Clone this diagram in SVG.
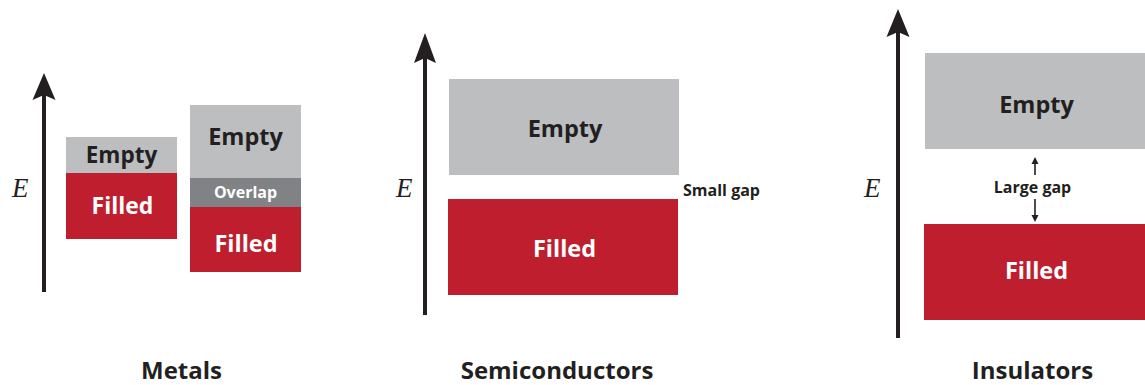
<svg xmlns="http://www.w3.org/2000/svg" width="1145" height="385" viewBox="0 0 1145 385">
<style>
.empty{fill:#bcbec0}
.filled{fill:#be1e2d}
.overlap{fill:#808285}
.t{font-family:"Open Sans","Noto Sans","Liberation Sans",sans-serif;font-weight:bold;text-anchor:middle}
.dark{fill:#231f20}
.white{fill:#ffffff}
.axis{stroke:#231f20;stroke-width:4;fill:none}
.head{fill:#231f20}
.e{font-family:"Liberation Serif","DejaVu Serif",serif;font-style:italic;font-size:27px;fill:#231f20}
.thin{stroke:#231f20;stroke-width:1.6;fill:none}
</style>
<g id="connectors">
<line class="axis" x1="44" y1="292" x2="44" y2="95"/>
<path class="head" d="M44,73 L55.5,100 L44,95 L32.5,100 Z"/>
<line class="axis" x1="425" y1="315" x2="425" y2="57"/>
<path class="head" d="M425,33 L436,63 L425,58 L414,63 Z"/>
<line class="axis" x1="898" y1="338" x2="898" y2="32"/>
<path class="head" d="M898,9 L909.5,37 L898,32 L886.5,37 Z"/>
<line class="thin" x1="1035" y1="175" x2="1035" y2="162"/>
<path class="head" d="M1035,157 L1038.5,164 L1031.5,164 Z"/>
<line class="thin" x1="1035" y1="199" x2="1035" y2="216"/>
<path class="head" d="M1035,222 L1038.5,215 L1031.5,215 Z"/>
</g>
<g id="metals">
<text class="e" x="12" y="197">E</text>
<g id="metal1-empty"><rect class="empty" x="66" y="137" width="111" height="36"/><text class="t dark" x="121.5" y="163" font-size="22.5">Empty</text></g>
<g id="metal1-filled"><rect class="filled" x="66" y="173" width="111" height="66"/><text class="t white" x="122.5" y="214" font-size="23">Filled</text></g>
<g id="metal2-empty"><rect class="empty" x="190" y="105" width="111" height="73"/><text class="t dark" x="245.5" y="145" font-size="23.5">Empty</text></g>
<g id="metal2-overlap"><rect class="overlap" x="190" y="178" width="111" height="29"/><text class="t white" x="245.5" y="198" font-size="16">Overlap</text></g>
<g id="metal2-filled"><rect class="filled" x="190" y="207" width="111" height="65"/><text class="t white" x="246" y="252" font-size="23.5">Filled</text></g>
<text class="t dark" x="181.5" y="379" font-size="24">Metals</text>
</g>
<g id="semiconductors">
<text class="e" x="396" y="197">E</text>
<g id="semi-empty"><rect class="empty" x="449" y="79" width="230" height="96"/><text class="t dark" x="565" y="137" font-size="23.5">Empty</text></g>
<g id="semi-filled"><rect class="filled" x="448" y="199" width="230" height="96"/><text class="t white" x="564.5" y="257" font-size="23.5">Filled</text></g>
<text class="t dark" x="721.5" y="196" font-size="16">Small gap</text>
<text class="t dark" x="557" y="379" font-size="24">Semiconductors</text>
</g>
<g id="insulators">
<text class="e" x="864" y="197">E</text>
<g id="ins-empty"><rect class="empty" x="925" y="53" width="220" height="96"/><text class="t dark" x="1036.5" y="113" font-size="23.5">Empty</text></g>
<g id="ins-filled"><rect class="filled" x="924" y="224" width="221" height="96"/><text class="t white" x="1036.5" y="279" font-size="23.5">Filled</text></g>
<text class="t dark" x="1032.5" y="193" font-size="16">Large gap</text>
<text class="t dark" x="1032.5" y="379" font-size="24">Insulators</text>
</g>
</svg>
